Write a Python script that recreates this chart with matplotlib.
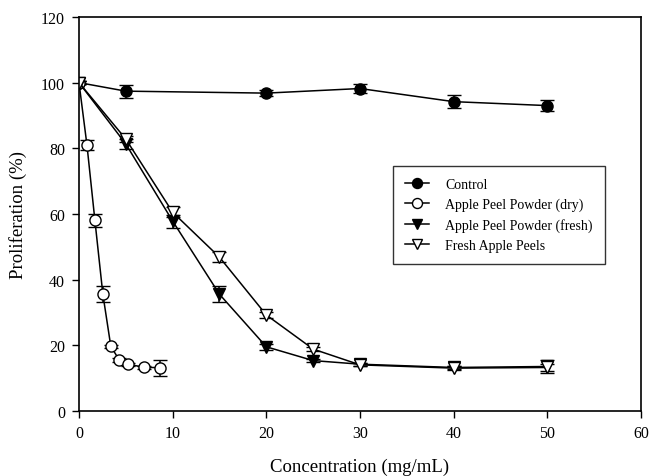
import matplotlib.pyplot as plt

plt.rcParams['font.family'] = 'Liberation Serif'

# Concentrations (mg/mL)
conc_control = [0, 5, 20, 30, 40, 50]
conc_dry = [0, 0.85, 1.7, 2.55, 3.4, 4.3, 5.2, 6.9, 8.7]
conc_fresh = [0, 5, 10, 15, 20, 25, 30, 40, 50]

# Proliferation (%) and standard errors
control = [100, 97.4, 96.8, 98.2, 94.2, 93.0]
control_err = [0.5, 2.0, 1.0, 1.5, 2.0, 1.8]
dry_powder = [100, 81.0, 58.0, 35.5, 19.6, 15.5, 14.2, 13.3, 13.1]
dry_powder_err = [0.5, 1.5, 2.0, 2.5, 0.5, 0.5, 0.5, 0.5, 2.5]
fresh_powder = [100, 81.3, 57.8, 35.5, 19.5, 15.3, 14.2, 13.2, 13.5]
fresh_powder_err = [0.5, 1.5, 2.0, 2.5, 1.0, 0.5, 0.5, 0.5, 2.0]
fresh_peels = [100, 82.8, 60.5, 46.8, 29.2, 18.8, 14.0, 13.0, 13.2]
fresh_peels_err = [0.5, 1.0, 1.5, 1.5, 1.0, 0.5, 0.5, 0.5, 1.0]

fig = plt.figure(figsize=(6.49, 4.77), dpi=100)
ax = fig.add_axes([0.1217, 0.1367, 0.866, 0.8256])

style = dict(color='black', lw=1.1, ms=8, capsize=5, elinewidth=1.1,
             capthick=1.1, mec='black', mew=1.0)
series = [
    (conc_control, control, control_err, 'o', 'black', 'Control'),
    (conc_dry, dry_powder, dry_powder_err, 'o', 'white', 'Apple Peel Powder (dry)'),
    (conc_fresh, fresh_powder, fresh_powder_err, 'v', 'black', 'Apple Peel Powder (fresh)'),
    (conc_fresh, fresh_peels, fresh_peels_err, 'v', 'white', 'Fresh Apple Peels'),
]
handles, names = [], []
for x, y, err, m, fc, name in series:
    eb = ax.errorbar(x, y, yerr=err, marker=m, mfc=fc, **style)
    handles.append(eb[0])
    names.append(name)

ax.set_xlim(0, 60)
ax.set_ylim(0, 120)
ax.set_xticks(range(0, 61, 10))
ax.set_yticks(range(0, 121, 20))
ax.tick_params(direction='out', length=5, width=1, labelsize=11.5, pad=5,
               top=False, right=False)
for s in ax.spines.values():
    s.set_linewidth(1.2)

ax.set_xlabel('Concentration (mg/mL)', fontsize=13.5, labelpad=12)
ax.set_ylabel('Proliferation (%)', fontsize=13.5, labelpad=10)

leg = ax.legend(handles, names, loc='upper left', bbox_to_anchor=(0.559, 0.622),
                borderaxespad=0, fontsize=10, frameon=True, fancybox=False,
                edgecolor='black', handlelength=1.7, borderpad=0.85,
                labelspacing=0.5, handletextpad=1.2, markerscale=0.9)
leg.get_frame().set_linewidth(1.0)

fig.savefig('out.png', dpi=100)
